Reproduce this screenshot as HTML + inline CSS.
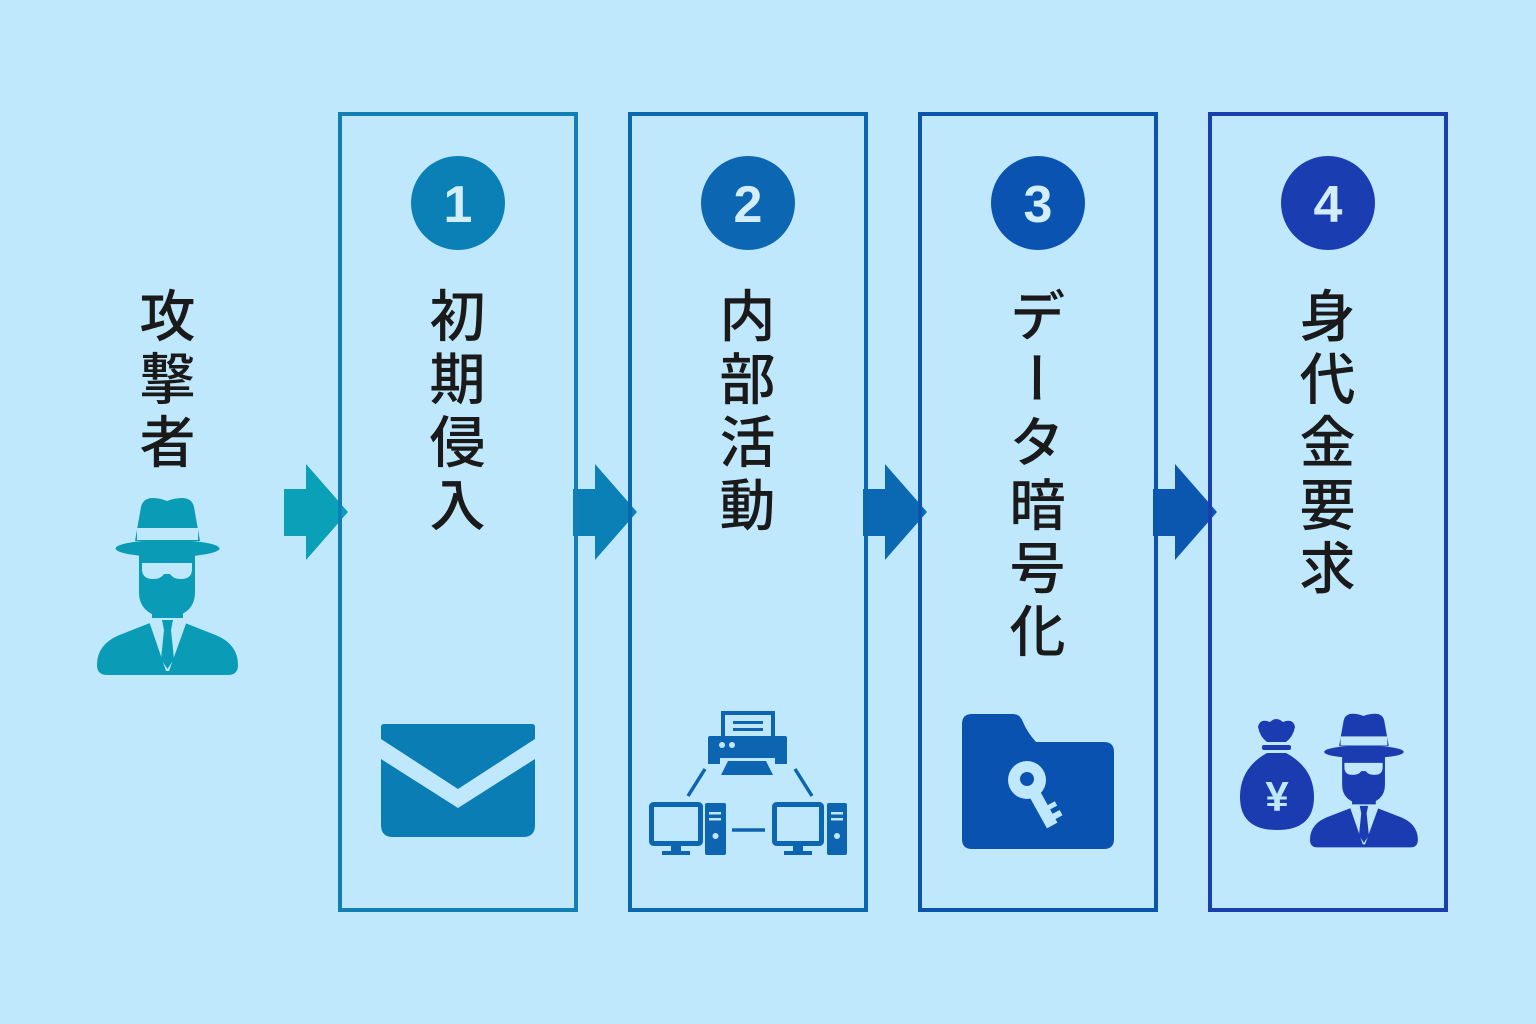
<!DOCTYPE html>
<html lang="ja">
<head>
<meta charset="utf-8">
<style>
  html,body{margin:0;padding:0;}
  body{width:1536px;height:1024px;background:#c0e8fd;position:relative;overflow:hidden;
       font-family:"Liberation Sans","Noto Sans CJK JP",sans-serif;}
  svg{position:absolute;left:0;top:0;}
  .vt{position:absolute;top:287px;width:80px;writing-mode:vertical-rl;text-orientation:upright;
      font-family:"Liberation Sans","Noto Sans CJK JP",sans-serif;font-size:56px;font-weight:500;
      letter-spacing:7px;line-height:80px;color:#1a1a1a;}
</style>
</head>
<body>
<svg width="1536" height="1024" viewBox="0 0 1536 1024" xmlns="http://www.w3.org/2000/svg">
  <defs>
    <g id="spy">
      <path d="M38,44 L44,10 Q46,1 56,1 Q63,1 70,4 Q77,1 85,1 Q95,1 97,10 L103,44 Z"/>
      <rect x="40" y="31" width="61" height="12" fill="#c0e8fd"/>
      <ellipse cx="70.5" cy="51.5" rx="52" ry="8.5"/>
      <path d="M42,58 L98,58 L98,95 Q98,118 70,121 Q42,118 42,95 Z"/>
      <path d="M45,66 L95,66 L95,72 Q95,82 84,82 Q76,82 73,77 L67,77 Q64,82 56,82 Q45,82 45,72 Z" fill="#c0e8fd"/>
      <rect x="55" y="108" width="31" height="22"/>
      <path d="M0,168 Q0,146 25,137 L53,126 L88,126 L116,137 Q141,146 141,168 Q141,178 131,178 L10,178 Q0,178 0,168 Z"/>
      <path d="M51,121 L91,121 L72,174 L69,174 Z" fill="#c0e8fd"/>
      <path d="M65,123 L76,123 L74,133 L77,162 L70.5,172 L64,162 L67,133 Z"/>
    </g>
  </defs>

  <!-- arrows -->
  <polygon fill="#0aa0b8" points="284,489 306,489 306,464 348,512 306,560 306,536 284,536"/>
  <polygon fill="#0b80b6" transform="translate(289,0)" points="284,489 306,489 306,464 348,512 306,560 306,536 284,536"/>
  <polygon fill="#0b69b3" transform="translate(579,0)" points="284,489 306,489 306,464 348,512 306,560 306,536 284,536"/>
  <polygon fill="#0b57b0" transform="translate(869,0)" points="284,489 306,489 306,464 348,512 306,560 306,536 284,536"/>

  <!-- boxes -->
  <rect x="340" y="114" width="236" height="796" fill="none" stroke="#117fb4" stroke-width="4"/>
  <rect x="630" y="114" width="236" height="796" fill="none" stroke="#0c67b1" stroke-width="4"/>
  <rect x="920" y="114" width="236" height="796" fill="none" stroke="#0b55ae" stroke-width="4"/>
  <rect x="1210" y="114" width="236" height="796" fill="none" stroke="#1b3fae" stroke-width="4"/>

  <!-- number circles -->
  <circle cx="458" cy="203" r="47" fill="#0a80b6"/>
  <circle cx="748" cy="203" r="47" fill="#0c66b2"/>
  <circle cx="1038" cy="203" r="47" fill="#0a53b0"/>
  <circle cx="1328" cy="203" r="47" fill="#1a3eb2"/>
  <g font-family="Liberation Sans, sans-serif" font-weight="bold" font-size="52" fill="#d2edfc" text-anchor="middle">
    <text x="458" y="222">1</text>
    <text x="748" y="222">2</text>
    <text x="1038" y="222">3</text>
    <text x="1328" y="222">4</text>
  </g>

  <!-- attacker big -->
  <use href="#spy" fill="#0a9cb7" transform="translate(97,497)"/>

  <!-- mail -->
  <path fill="#0b7db5" d="M384,724 L532,724 Q535,724 535,727 L535,825 Q535,837 523,837 L393,837 Q381,837 381,825 L381,727 Q381,724 384,724 Z"/>
  <polygon fill="#c0e8fd" points="381,739 458,789 535,739 535,759 458,808 381,759"/>

  <!-- network -->
  <g fill="#0d65b1">
    <path d="M721,711 L775,711 L775,737 L771,737 L771,715 L725,715 L725,737 L721,737 Z"/>
    <rect x="733" y="721" width="30" height="3"/>
    <rect x="733" y="728" width="30" height="3"/>
    <rect x="708" y="736" width="79" height="22" rx="2"/>
    <polygon points="728,761 766,761 773,775 721,775"/>
    <rect x="708" y="756" width="12" height="8"/>
    <rect x="775" y="756" width="12" height="8"/>
  </g>
  <circle cx="722" cy="745" r="3" fill="#c0e8fd"/>
  <circle cx="732" cy="745" r="3" fill="#c0e8fd"/>
  <g stroke="#0d65b1" stroke-width="3.5" fill="none">
    <line x1="705" y1="769" x2="688" y2="796"/>
    <line x1="795" y1="769" x2="812" y2="796"/>
    <line x1="732" y1="830" x2="765" y2="830"/>
    <rect x="651.5" y="804.5" width="49" height="39" rx="2" stroke-width="5"/>
    <rect x="774.5" y="804.5" width="47" height="39" rx="2" stroke-width="5"/>
  </g>
  <g fill="#0d65b1">
    <rect x="671" y="846" width="10" height="6"/>
    <rect x="662" y="851" width="28" height="4"/>
    <rect x="793" y="846" width="10" height="6"/>
    <rect x="784" y="851" width="28" height="4"/>
    <rect x="705" y="803" width="21" height="52" rx="2"/>
    <rect x="827" y="803" width="20" height="52" rx="2"/>
  </g>
  <g fill="#c0e8fd">
    <rect x="709" y="812" width="12" height="2.5"/>
    <rect x="709" y="818" width="12" height="2.5"/>
    <circle cx="715.5" cy="836" r="3"/>
    <rect x="831" y="812" width="12" height="2.5"/>
    <rect x="831" y="818" width="12" height="2.5"/>
    <circle cx="837" cy="836" r="3"/>
  </g>

  <!-- folder with key -->
  <path fill="#0a52b0" d="M972,714 L1013,714 Q1020,714 1023,722 Q1027,732 1036,742 L1104,742 Q1114,742 1114,752 L1114,839 Q1114,849 1104,849 L972,849 Q962,849 962,839 L962,724 Q962,714 972,714 Z"/>
  <g transform="translate(1027,780) rotate(-29)" fill="#c0e8fd">
    <rect x="-6" y="12" width="12" height="40"/>
    <rect x="5" y="32" width="9" height="5"/>
    <rect x="5" y="42" width="9" height="6"/>
  </g>
  <circle cx="1027" cy="780" r="19" fill="#c0e8fd"/>
  <circle cx="1027" cy="779" r="7" fill="#0a52b0"/>

  <!-- money bag -->
  <g fill="#1a3cb0">
    <path d="M1258,727 Q1260,718 1270,722 Q1276,716 1283,722 Q1293,718 1295,727 Q1293,737 1286,742 L1267,742 Q1260,737 1258,727 Z"/>
    <rect x="1262" y="745" width="29" height="5" rx="2"/>
    <path d="M1267,753 L1286,753 Q1314,768 1314,797 Q1314,830 1277,830 Q1240,830 1240,797 Q1240,768 1267,753 Z"/>
  </g>
  <text x="1277" y="811" font-family="Liberation Sans, sans-serif" font-weight="bold" font-size="42" fill="#c0e8fd" text-anchor="middle">¥</text>

  <!-- attacker small -->
  <use href="#spy" fill="#1a3cb0" transform="translate(1310,713) scale(0.765,0.755)"/>
</svg>

<div class="vt" style="left:123px;">攻撃者</div>
<div class="vt" style="left:413px;">初期侵入</div>
<div class="vt" style="left:703px;">内部活動</div>
<div class="vt" style="left:993px;">データ暗号化</div>
<div class="vt" style="left:1283px;">身代金要求</div>
</body>
</html>
